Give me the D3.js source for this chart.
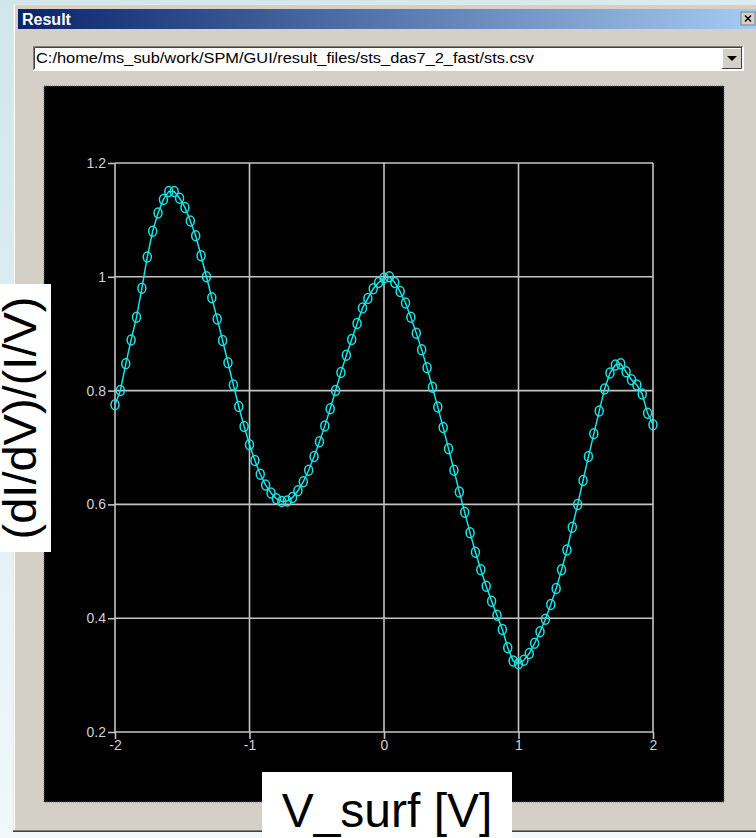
<!DOCTYPE html>
<html><head><meta charset="utf-8">
<script src="https://cdn.jsdelivr.net/npm/d3@7"></script>
<style>html,body{margin:0;padding:0;overflow:hidden;background:#fff}</style>
</head><body>
<svg id="c" width="756" height="838"></svg>
<script>
// ---- data ----
const voltages = [-2.00,-1.96,-1.92,-1.88,-1.84,-1.80,-1.76,-1.72,-1.68,-1.64,-1.60,-1.56,-1.52,-1.48,-1.44,-1.40,-1.36,-1.32,-1.28,-1.24,
  -1.20,-1.16,-1.12,-1.08,-1.04,-1.00,-0.96,-0.92,-0.88,-0.84,-0.80,-0.76,-0.72,-0.68,-0.64,-0.60,-0.56,-0.52,-0.48,-0.44,
  -0.40,-0.36,-0.32,-0.28,-0.24,-0.20,-0.16,-0.12,-0.08,-0.04,0.00,0.04,0.08,0.12,0.16,0.20,0.24,0.28,0.32,0.36,
  0.40,0.44,0.48,0.52,0.56,0.60,0.64,0.68,0.72,0.76,0.80,0.84,0.88,0.92,0.96,1.00,1.04,1.08,1.12,1.16,
  1.20,1.24,1.28,1.32,1.36,1.40,1.44,1.48,1.52,1.56,1.60,1.64,1.68,1.72,1.76,1.80,1.84,1.88,1.92,1.96,2.00];
const conductance = [0.775,0.800,0.847,0.889,0.929,0.980,1.035,1.080,1.112,1.136,1.150,1.150,1.138,1.122,1.098,1.072,1.037,1.000,0.963,0.926,
  0.888,0.849,0.810,0.772,0.737,0.705,0.677,0.653,0.634,0.620,0.610,0.605,0.606,0.612,0.624,0.640,0.660,0.684,0.710,0.738,
  0.768,0.800,0.832,0.862,0.890,0.918,0.945,0.962,0.979,0.990,0.998,1.000,0.990,0.974,0.954,0.929,0.901,0.872,0.840,0.806,
  0.771,0.735,0.698,0.660,0.622,0.586,0.550,0.516,0.485,0.456,0.430,0.405,0.380,0.348,0.325,0.320,0.326,0.338,0.356,0.376,
  0.398,0.424,0.452,0.485,0.520,0.560,0.600,0.642,0.684,0.724,0.764,0.803,0.831,0.845,0.847,0.833,0.819,0.810,0.794,0.760,0.740];
const xTickValues = [-2, -1, 0, 1, 2];
const xTickLabels = ["-2", "-1", "0", "1", "2"];
const yTickValues = [0.2, 0.4, 0.6, 0.8, 1.0, 1.2];
const yTickLabels = ["0.2", "0.4", "0.6", "0.8", "1", "1.2"];
const windowTitle = "Result";
const filePath = "C:/home/ms_sub/work/SPM/GUI/result_files/sts_das7_2_fast/sts.csv";
const yAxisTitle = "(dI/dV)/(I/V)";
const xAxisTitle = "V_surf [V]";

// ---- drawing ----
const svg = d3.select("#c");
const defs = svg.append("defs");
const bg = defs.append("linearGradient").attr("id","bg").attr("x1",0).attr("y1",0).attr("x2",0.3).attr("y2",1);
bg.append("stop").attr("offset","0%").attr("stop-color","#cfe6eb");
bg.append("stop").attr("offset","100%").attr("stop-color","#f3f9fa");
const tg = defs.append("linearGradient").attr("id","tg").attr("x1",0).attr("y1",0).attr("x2",1).attr("y2",0);
tg.append("stop").attr("offset","0%").attr("stop-color","#0a246a");
tg.append("stop").attr("offset","100%").attr("stop-color","#a6caf0");

svg.append("rect").attr("width",756).attr("height",838).attr("fill","url(#bg)");

// window frame
svg.append("rect").attr("x",13).attr("y",4).attr("width",743).attr("height",828).attr("fill","#d4d0c8");
svg.append("line").attr("x1",13.5).attr("y1",4).attr("x2",13.5).attr("y2",832).attr("stroke","#e8e6e1");
svg.append("line").attr("x1",13).attr("y1",4.5).attr("x2",756).attr("y2",4.5).attr("stroke","#e8e6e1");
svg.append("line").attr("x1",14.5).attr("y1",5).attr("x2",14.5).attr("y2",830).attr("stroke","#ffffff");
svg.append("line").attr("x1",13).attr("y1",830.5).attr("x2",756).attr("y2",830.5).attr("stroke","#808080");
svg.append("line").attr("x1",13).attr("y1",831.5).attr("x2",756).attr("y2",831.5).attr("stroke","#404040");

// title bar
svg.append("rect").attr("x",18).attr("y",9).attr("width",738).attr("height",20).attr("fill","url(#tg)");
svg.append("text").attr("x",22).attr("y",25).attr("fill","#fff").attr("font-family","Liberation Sans, Arial, sans-serif")
  .attr("font-weight","bold").attr("font-size",16).text(windowTitle);
// close button
const cb = svg.append("g").attr("transform","translate(741,12)");
cb.append("rect").attr("width",14).attr("height",13).attr("fill","#d4d0c8").attr("stroke","#808080");
cb.append("path").attr("d","M4,3.5 L10,9.5 M10,3.5 L4,9.5").attr("stroke","#000").attr("stroke-width",1.4);

// dropdown
svg.append("rect").attr("x",33).attr("y",46).attr("width",710).attr("height",24).attr("fill","#fff");
svg.append("path").attr("d","M33.5,70 V46.5 H743").attr("fill","none").attr("stroke","#808080");
svg.append("path").attr("d","M34.5,69 V47.5 H742").attr("fill","none").attr("stroke","#404040");
svg.append("path").attr("d","M33,70.5 H743.5 V46").attr("fill","none").attr("stroke","#ffffff");
svg.append("rect").attr("x",722).attr("y",48).attr("width",20).attr("height",21).attr("fill","#d4d0c8");
svg.append("path").attr("d","M722.5,68 V48.5 H741").attr("fill","none").attr("stroke","#ffffff");
svg.append("path").attr("d","M722,68.5 H741.5 V48").attr("fill","none").attr("stroke","#404040");
svg.append("path").attr("d","M727,56 H737 L732,61 Z").attr("fill","#000");
svg.append("text").attr("x",36).attr("y",63).attr("fill","#000").attr("font-family","Liberation Sans, Arial, sans-serif")
  .attr("font-size",15.5).attr("textLength",498).attr("lengthAdjust","spacingAndGlyphs").text(filePath);

// plot canvas
svg.append("rect").attr("x",44).attr("y",86).attr("width",680).attr("height",716).attr("fill","#000")
  .attr("stroke","#6a6a6a").attr("stroke-dasharray","1,1");

const x = d3.scaleLinear().domain([-2, 2]).range([115, 653]);
const y = d3.scaleLinear().domain([0.2, 1.2]).range([732, 163]);
const gridColor = "#c4c4c4";

// grid
const g = svg.append("g");
g.selectAll(".vg").data(xTickValues).join("line")
  .attr("x1", d => x(d)).attr("x2", d => x(d)).attr("y1", y(0.2)).attr("y2", y(1.2))
  .attr("stroke", gridColor).attr("stroke-width", 1.6);
g.selectAll(".hg").data(yTickValues).join("line")
  .attr("x1", x(-2)).attr("x2", x(2)).attr("y1", d => y(d)).attr("y2", d => y(d))
  .attr("stroke", gridColor).attr("stroke-width", 1.6);

// axes
const tickFont = "Liberation Sans, Arial, sans-serif";
const yAxis = svg.append("g").attr("transform", `translate(${x(-2)},0)`)
  .call(d3.axisLeft(y).tickValues(yTickValues).tickSize(7).tickPadding(2)
    .tickFormat((d,i) => yTickLabels[i]));
const xAxis = svg.append("g").attr("transform", `translate(0,${y(0.2)})`)
  .call(d3.axisBottom(x).tickValues(xTickValues).tickSize(7).tickPadding(1)
    .tickFormat((d,i) => xTickLabels[i]));
[yAxis, xAxis].forEach(a => {
  a.select(".domain").remove();
  a.selectAll("line").attr("stroke", gridColor).attr("stroke-width", 1.6);
  a.selectAll("text").attr("fill", "#d2d2d2").attr("font-family", tickFont).attr("font-size", 14);
});

// curve
const cyan = "#14e6e6";
const pts = voltages.map((v, i) => [v, conductance[i]]);
svg.append("path").datum(pts)
  .attr("d", d3.line().x(d => x(d[0])).y(d => y(d[1])))
  .attr("fill", "none").attr("stroke", cyan).attr("stroke-width", 1.5);
svg.append("g").selectAll("ellipse").data(pts).join("ellipse")
  .attr("cx", d => x(d[0])).attr("cy", d => y(d[1])).attr("rx", 4).attr("ry", 5)
  .attr("fill", "none").attr("stroke", cyan).attr("stroke-width", 1.5);

// axis title boxes
svg.append("rect").attr("x",0).attr("y",284).attr("width",51).attr("height",268).attr("fill","#fff");
svg.append("text").attr("transform","translate(36,418) rotate(-90)").attr("text-anchor","middle")
  .attr("font-family","Liberation Sans, Arial, sans-serif").attr("font-size",47).attr("fill","#000").text(yAxisTitle);
svg.append("rect").attr("x",262).attr("y",772).attr("width",250).attr("height",66).attr("fill","#fff");
svg.append("text").attr("x",387).attr("y",827).attr("text-anchor","middle")
  .attr("font-family","Liberation Sans, Arial, sans-serif").attr("font-size",48).attr("fill","#000").text(xAxisTitle);
</script>
</body></html>
